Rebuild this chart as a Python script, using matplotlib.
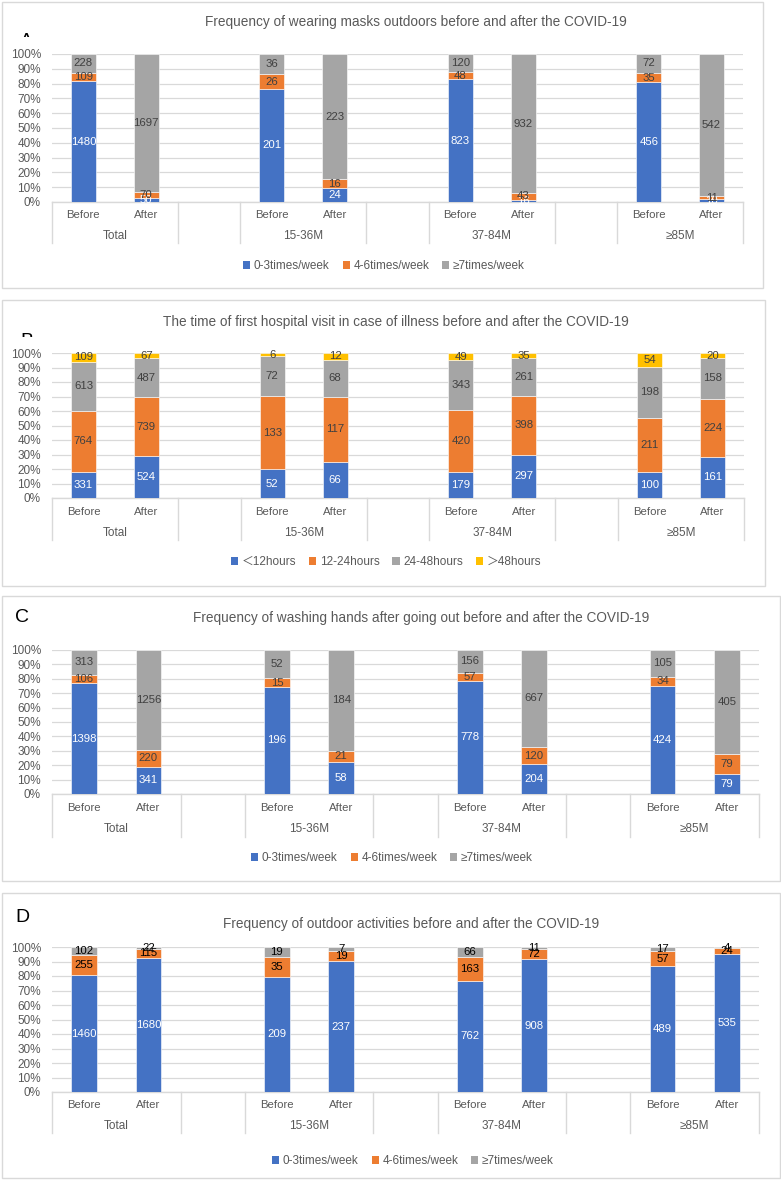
import matplotlib
matplotlib.use("Agg")
import matplotlib.pyplot as plt
from matplotlib.patches import Rectangle, Patch
from matplotlib.transforms import Bbox, TransformedBbox, blended_transform_factory

plt.rcParams['font.family'] = ['Liberation Sans', 'Noto Sans CJK SC', 'DejaVu Sans']

W, H = 781, 1180

groups = ["Total", "15-36M", "37-84M", "≥85M"]
periods = ["Before", "After"]

# Panel A: wearing masks outdoors (Before, After per group)
a_series = ["0-3times/week", "4-6times/week", "≥7times/week"]
a_low = [1480, 50, 201, 24, 823, 16, 456, 10]
a_mid = [109, 70, 26, 16, 48, 43, 35, 11]
a_high = [228, 1697, 36, 223, 120, 932, 72, 542]

# Panel B: time of first hospital visit
b_series = ["＜12hours", "12-24hours", "24-48hours", "＞48hours"]
b_s1 = [331, 524, 52, 66, 179, 297, 100, 161]
b_s2 = [764, 739, 133, 117, 420, 398, 211, 224]
b_s3 = [613, 487, 72, 68, 343, 261, 198, 158]
b_s4 = [109, 67, 6, 12, 49, 35, 54, 20]

# Panel C: washing hands after going out
c_series = ["0-3times/week", "4-6times/week", "≥7times/week"]
c_low = [1398, 341, 196, 58, 778, 204, 424, 79]
c_mid = [106, 220, 15, 21, 57, 120, 34, 79]
c_high = [313, 1256, 52, 184, 156, 667, 105, 405]

# Panel D: outdoor activities
d_series = ["0-3times/week", "4-6times/week", "≥7times/week"]
d_low = [1460, 1680, 209, 237, 762, 908, 489, 535]
d_mid = [255, 115, 35, 19, 163, 72, 57, 24]
d_high = [102, 22, 19, 7, 66, 11, 17, 4]

titles = [
    "Frequency of wearing masks outdoors before and after the COVID-19",
    "The time of first hospital visit in case of illness before and after the COVID-19",
    "Frequency of washing hands after going out before and after the COVID-19",
    "Frequency of outdoor activities before and after the COVID-19",
]

BLUE, ORANGE, GRAY, YELLOW = "#4472C4", "#ED7D31", "#A5A5A5", "#FFC000"
TXT = "#595959"
GRID = "#D9D9D9"

fig = plt.figure(figsize=(W / 100, H / 100), dpi=100)


def fbox(x0, y0, x1, y1):
    return [x0 / W, 1 - y1 / H, (x1 - x0) / W, (y1 - y0) / H]


# bar positions: two per group, one empty slot between groups
pos = []
for g in range(4):
    pos += [3 * g, 3 * g + 1]

panels = [
    dict(frame=(2, 2, 763, 288), ax=(52, 54, 743, 202), sep=243, lvl1=215, lvl2=236,
         title_y=22, title_x=416, leg_y=266, leg_x=384,
         series=[a_low, a_mid, a_high], names=a_series, colors=[BLUE, ORANGE, GRAY],
         lab=("A", 26, 42, 37), lc="#404040"),
    dict(frame=(2, 300, 765, 586), ax=(52, 353, 744, 498), sep=540, lvl1=512, lvl2=533,
         title_y=322, title_x=396, leg_y=562, leg_x=386,
         series=[b_s1, b_s2, b_s3, b_s4], names=b_series, colors=[BLUE, ORANGE, GRAY, YELLOW],
         lab=("B", 27, 342, 337), lc="#404040"),
    dict(frame=(2, 596, 780, 881), ax=(52, 650, 759, 794), sep=837, lvl1=808, lvl2=829,
         title_y=618, title_x=421, leg_y=858, leg_x=392,
         series=[c_low, c_mid, c_high], names=c_series, colors=[BLUE, ORANGE, GRAY],
         lab=("C", 22, 618, None), lc="#404040"),
    dict(frame=(2, 893, 780, 1178), ax=(52, 947, 759, 1092), sep=1133, lvl1=1105, lvl2=1126,
         title_y=924, title_x=411, leg_y=1161, leg_x=413,
         series=[d_low, d_mid, d_high], names=d_series, colors=[BLUE, ORANGE, GRAY],
         lab=("D", 22, 917, None), lc="#000000"),
]

for i, p in enumerate(panels):
    fx0, fy0, fx1, fy1 = p["frame"]
    fig.patches.append(Rectangle((fx0 / W, 1 - fy1 / H), (fx1 - fx0) / W, (fy1 - fy0) / H,
                                 transform=fig.transFigure, facecolor="white",
                                 edgecolor=GRID, linewidth=1.0, zorder=-5))
    ax0, ay0, ax1, ay1 = p["ax"]
    ax = fig.add_axes(fbox(ax0, ay0, ax1, ay1))
    ax.set_facecolor("none")
    totals = [sum(s[k] for s in p["series"]) for k in range(8)]
    bottom = [0.0] * 8
    for si, (vals, col) in enumerate(zip(p["series"], p["colors"])):
        frac = [v / t for v, t in zip(vals, totals)]
        ax.bar(pos, frac, width=0.4, bottom=bottom, color=col, edgecolor="white",
               linewidth=0.4, zorder=3)
        for k in range(8):
            c = "white" if si == 0 else p["lc"]
            ax.text(pos[k], bottom[k] + frac[k] / 2, str(vals[k]), ha="center", va="center",
                    fontsize=8.2, color=c, zorder=5)
        bottom = [b + f for b, f in zip(bottom, frac)]
    ax.set_xlim(-0.5, 10.5)
    ax.set_ylim(0, 1)
    ax.set_yticks([k / 10 for k in range(11)])
    ax.set_yticklabels([f"{k * 10}%" for k in range(11)])
    ax.tick_params(axis="y", length=0, labelsize=8.5, labelcolor=TXT, pad=8)
    ax.tick_params(axis="x", length=0, labelbottom=False)
    ax.set_xticks([])
    ax.grid(axis="y", color=GRID, linewidth=0.9, zorder=0)
    for s in ["top", "right", "left"]:
        ax.spines[s].set_visible(False)
    ax.spines["bottom"].set_color(GRID)
    ax.spines["bottom"].set_linewidth(1.0)
    ph = ay1 - ay0
    tr = blended_transform_factory(ax.transData, ax.transAxes)
    for sx in [-0.5, 1.5, 2.5, 4.5, 5.5, 7.5, 8.5, 10.5]:
        ax.plot([sx, sx], [0, -(p["sep"] - ay1) / ph], transform=tr, color=GRID,
                linewidth=1.0, clip_on=False)
    for k in range(8):
        ax.text(pos[k], -(p["lvl1"] - ay1) / ph, periods[k % 2], transform=tr,
                ha="center", va="center", fontsize=8.2, color=TXT)
    for g in range(4):
        ax.text(3 * g + 0.5, -(p["lvl2"] - ay1) / ph, groups[g], transform=tr,
                ha="center", va="center", fontsize=8.5, color=TXT)
    fig.text(p["title_x"] / W, 1 - p["title_y"] / H, titles[i], ha="center", va="center",
             fontsize=9.8, color=TXT)
    handles = [Patch(facecolor=c, edgecolor="none") for c in p["colors"]]
    fig.legend(handles, p["names"], loc="center", bbox_to_anchor=(p["leg_x"] / W, 1 - p["leg_y"] / H),
               ncol=len(handles), frameon=False, fontsize=8.5, labelcolor=TXT,
               handlelength=0.6, handleheight=0.6, handletextpad=0.3, columnspacing=1.1)
    letter, lx, ly, clip_y = p["lab"]
    t = fig.text(lx / W, 1 - ly / H, letter, ha="center", va="center", fontsize=14, color="black")
    if clip_y is not None:
        bb = Bbox([[0, 1 - clip_y / H], [0.2, 1.0]])
        t.set_clip_box(TransformedBbox(bb, fig.transFigure))
        t.set_clip_on(True)

fig.savefig("out.png", dpi=100)
